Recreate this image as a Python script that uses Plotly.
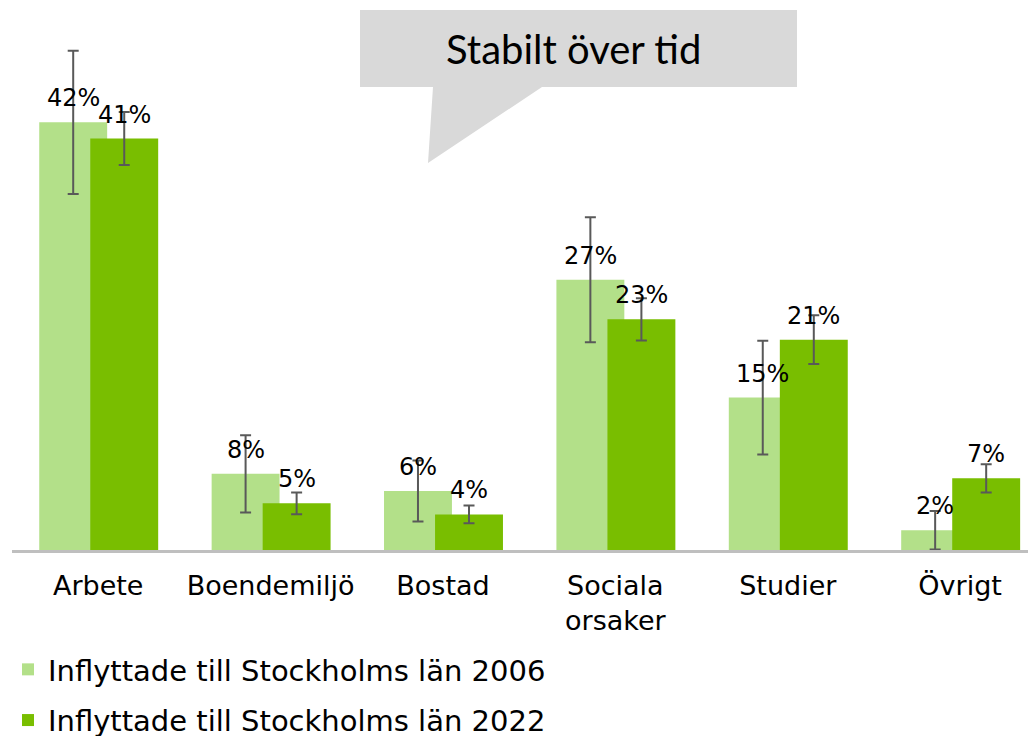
import plotly.graph_objects as go

# ---- data ----
categories = ["Arbete", "Boendemiljö", "Bostad", "Sociala<br>orsaker", "Studier", "Övrigt"]
series_names = ["Inflyttade till Stockholms län 2006", "Inflyttade till Stockholms län 2022"]
values_2006 = [42.1, 7.5, 5.8, 26.6, 15.0, 1.95]
values_2022 = [40.5, 4.6, 3.5, 22.7, 20.7, 7.05]
err_2006 = [7.05, 3.8, 3.0, 6.15, 5.6, 1.9]
err_2022 = [2.6, 1.07, 0.87, 2.08, 2.4, 1.4]
labels_2006 = ["42%", "8%", "6%", "27%", "15%", "2%"]
labels_2022 = ["41%", "5%", "4%", "23%", "21%", "7%"]
callout_text = "Stabilt över tid"

# ---- styling / layout constants ----
PAGE_OFF = 8  # default body margin of the html page
W, H = 1036 - PAGE_OFF, 736 - PAGE_OFF
ML, MR, MT, MB = 12 - PAGE_OFF, 0, 42 - PAGE_OFF, 186
PW, PH = W - ML - MR, H - MT - MB
XR = [-0.5, 5.44]
YR = [0, 50]
BAR_W = 0.394
OFF_2006, OFF_2022 = -0.145, 0.151
C_LIGHT, C_DARK = "#b3e089", "#79be00"
ERR_C = "#595959"
FONT = "DejaVu Sans"

idx = list(range(len(categories)))

def px2paper(px, py):
    # px, py: page pixel positions
    return (px - PAGE_OFF - ML) / PW, (H - MB - (py - PAGE_OFF)) / PH

fig = go.Figure()
for vals, errs, off, col, name in [
    (values_2006, err_2006, OFF_2006, C_LIGHT, series_names[0]),
    (values_2022, err_2022, OFF_2022, C_DARK, series_names[1]),
]:
    fig.add_trace(go.Bar(
        x=[i + off for i in idx], y=vals, width=BAR_W, name=name,
        marker=dict(color=col, line=dict(width=0)),
        error_y=dict(type="data", array=errs, visible=True, color=ERR_C, thickness=2, width=5.5),
        legendgroup=name,
    ))

# data labels
for labs, vals, off in [(labels_2006, values_2006, OFF_2006), (labels_2022, values_2022, OFF_2022)]:
    for i, (lab, v) in enumerate(zip(labs, vals)):
        fig.add_annotation(x=i + off, y=v, text=lab, showarrow=False, xanchor="center",
                           yanchor="bottom", yshift=8, font=dict(family=FONT, size=24, color="#000000"))

# callout shape (speech bubble)
pts = [(360, 10), (797, 10), (797, 87), (542, 87), (428, 163), (433, 87), (360, 87)]
path = ""
for k, (px, py) in enumerate(pts):
    xp, yp = px2paper(px, py)
    path += ("M" if k == 0 else "L") + f"{xp:.5f},{yp:.5f}"
path += "Z"
fig.add_shape(type="path", xref="paper", yref="paper", path=path,
              fillcolor="#d9d9d9", line=dict(width=0), layer="above")
tx, ty = px2paper(573, 49)
fig.add_annotation(xref="paper", yref="paper", x=tx, y=ty, text=callout_text, showarrow=False,
                   xanchor="center", yanchor="middle", font=dict(family="Lato", size=40, color="#000000"))

fig.update_layout(
    width=W, height=H, margin=dict(l=ML, r=MR, t=MT, b=MB, autoexpand=False),
    paper_bgcolor="white", plot_bgcolor="white",
    barmode="overlay", showlegend=True,
    legend=dict(orientation="v", xref="container", yref="container", x=0, y=1 - 636 / H,
                xanchor="left", yanchor="top", font=dict(family=FONT, size=29, color="#000000"),
                traceorder="grouped", tracegroupgap=10, bgcolor="rgba(0,0,0,0)"),
    xaxis=dict(range=XR, tickmode="array", tickvals=idx, ticktext=categories, tickangle=0,
               showgrid=False, zeroline=False, showline=True, linecolor="#bfbfbf", linewidth=2.5,
               ticks="", ticklabelstandoff=10, tickfont=dict(family=FONT, size=27, color="#000000")),
    yaxis=dict(range=YR, visible=False, showgrid=False, zeroline=False),
    font=dict(family=FONT),
)
fig.write_html("out.html")
